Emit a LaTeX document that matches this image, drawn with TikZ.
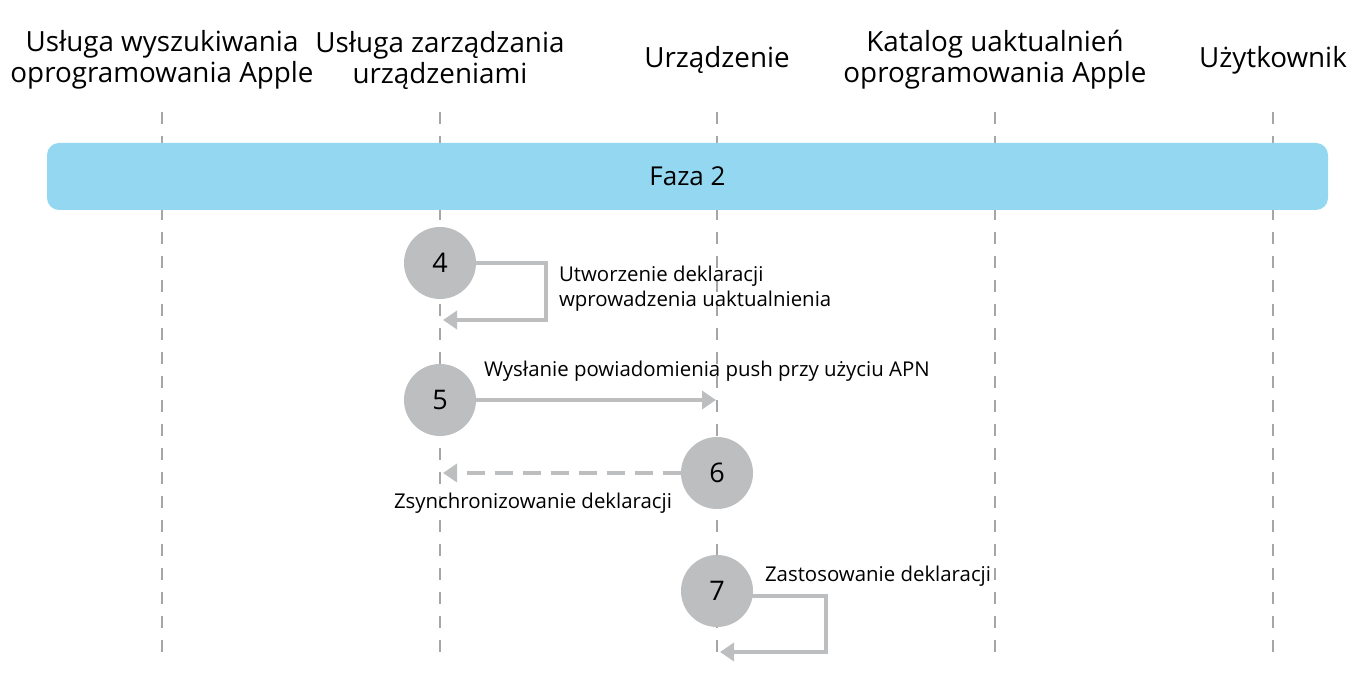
\documentclass[tikz,border=0pt]{standalone}
\usepackage{fontspec}
\setmainfont{Open Sans}
\usetikzlibrary{arrows.meta}
\definecolor{gr}{HTML}{BCBEC0}
\definecolor{bl}{HTML}{93D8F0}
\begin{document}
\begin{tikzpicture}[x=0.5pt,y=-0.5pt,
 head/.style={align=center,font=\fontsize{13.9}{15.5}\selectfont},
 lab/.style={font=\fontsize{10.2}{12.5}\selectfont,align=left},
 lane/.style={gray!70,dashed,dash pattern=on 6pt off 6pt,line width=0.6pt},
 num/.style={circle,fill=gr,minimum size=36pt,inner sep=0pt,font=\fontsize{13.5}{15}\selectfont},
 arr/.style={gr,line width=2.2pt,-{Triangle[length=7pt,width=9pt]}}]
\useasboundingbox (0,0) rectangle (1357,673);
\foreach \x/\n/\t in {162/a/{Usługa wyszukiwania\\oprogramowania Apple},440/b/{Usługa zarządzania\\urządzeniami},717/c/{Urządzenie},995/d/{Katalog uaktualnień\\oprogramowania Apple},1273/e/{Użytkownik}}{
 \node[head] (h\n) at (\x,60) {\t};
 \draw[lane] (\x,112) -- (\x,655);
}
\node[fill=bl,rounded corners=6pt,minimum width=640.5pt,minimum height=33.5pt,font=\fontsize{13}{15}\selectfont] (faza) at (687.5,176.5) {Faza 2};
\node[num] (n4) at (440,263) {4};
\node[num] (n5) at (440,400) {5};
\node[num] (n6) at (717,473) {6};
\node[num] (n7) at (717,591) {7};
\coordinate (e4) at (443,320);
\coordinate (e5) at (716,400);
\coordinate (e6) at (443,473);
\coordinate (e7) at (720,652);
\coordinate (s7) at (748,596);
\draw[arr] (n4.east) -- (546,263) -- (546,320) -- (e4);
\draw[arr] (n5.east) -- (e5);
\draw[arr,dashed,dash pattern=on 9pt off 5pt] (n6.west) -- (e6);
\draw[arr] (s7) -- (826,596) -- (826,652) -- (e7);
\node[lab,anchor=west] (l4) at (552,289) {Utworzenie deklaracji\\wprowadzenia uaktualnienia};
\node[lab,anchor=west] (l5) at (477,371) {Wysłanie powiadomienia push przy użyciu APN};
\node[lab] (l6) at (533,503) {Zsynchronizowanie deklaracji};
\node[lab,anchor=west] (l7) at (758,576) {Zastosowanie deklaracji};
\end{tikzpicture}
\end{document}
